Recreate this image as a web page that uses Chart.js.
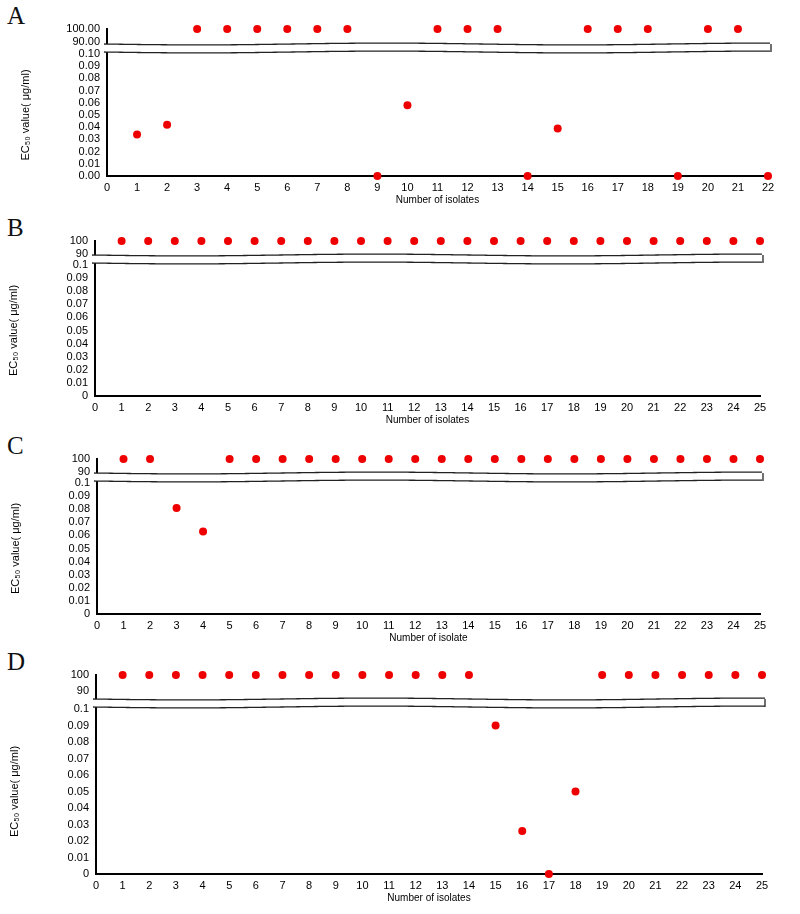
<!DOCTYPE html>
<html><head><meta charset="utf-8">
<script src="https://cdn.jsdelivr.net/npm/chart.js@4"></script>
<style>
body{margin:0;background:#fff;width:800px;height:914px;position:relative;overflow:hidden}
canvas{position:absolute;left:0}
.lt{position:absolute;font-family:"Liberation Serif",serif;font-size:25px;color:#111}
</style></head><body>
<div class="lt" style="left:7px;top:2px">A</div>
<div class="lt" style="left:7px;top:214px">B</div>
<div class="lt" style="left:7px;top:432px">C</div>
<div class="lt" style="left:7px;top:648px">D</div>
<canvas id="cA"></canvas><canvas id="cB"></canvas><canvas id="cC"></canvas><canvas id="cD"></canvas>
<script>
// Data
const isolatesA = [1,2,3,4,5,6,7,8,9,10,11,12,13,14,15,16,17,18,19,20,21,22];
const valuesA   = [0.034,0.042,100,100,100,100,100,100,0,0.058,100,100,100,0,0.039,100,100,100,0,100,100,0];
const isolatesB = [1,2,3,4,5,6,7,8,9,10,11,12,13,14,15,16,17,18,19,20,21,22,23,24,25];
const valuesB   = [100,100,100,100,100,100,100,100,100,100,100,100,100,100,100,100,100,100,100,100,100,100,100,100,100];
const isolatesC = [1,2,3,4,5,6,7,8,9,10,11,12,13,14,15,16,17,18,19,20,21,22,23,24,25];
const valuesC   = [100,100,0.081,0.063,100,100,100,100,100,100,100,100,100,100,100,100,100,100,100,100,100,100,100,100,100];
const isolatesD = [1,2,3,4,5,6,7,8,9,10,11,12,13,14,15,16,17,18,19,20,21,22,23,24,25];
const valuesD   = [100,100,100,100,100,100,100,100,100,100,100,100,100,100,0.09,0.026,0,0.05,100,100,100,100,100,100,100];
const topTicksA = ["100.00","90.00"];
const lowTicksA = ["0.10","0.09","0.08","0.07","0.06","0.05","0.04","0.03","0.02","0.01","0.00"];
const topTicks  = ["100","90"];
const lowTicks  = ["0.1","0.09","0.08","0.07","0.06","0.05","0.04","0.03","0.02","0.01","0"];
const xTitleA = "Number of isolates", xTitleC = "Number of isolate";
const yTitle = "EC\u2085\u2080 value( \u03bcg/ml)";

const FONT = {family:"'Liberation Sans', Arial, sans-serif", size:11};

const breakPlugin = {
  id:'brk',
  afterDraw(ch){
    const c=ch.ctx, lo=ch.scales.yLow, a=ch.chartArea;
    const y0=lo.top-10, y1=lo.top-2, xl=a.left-3, xr=a.right+3;
    c.save();
    c.fillStyle='#fff'; c.fillRect(xl,y0,xr-xl,y1-y0);
    c.strokeStyle='#222'; c.lineWidth=1.3;
    for(const y of [y0,y1]){
      c.beginPath();
      for(let x=xl;x<=xr;x+=2){const yy=y+Math.sin((x-xl)/60)*0.9; x===xl?c.moveTo(x,yy):c.lineTo(x,yy);}
      c.stroke();
    }
    c.beginPath(); c.moveTo(xr,y0); c.lineTo(xr,y1); c.stroke();
    c.restore();
  }
};

function make(id, p){
  const cv=document.getElementById(id);
  cv.style.top=p.ctop+'px'; cv.width=800; cv.height=p.h; cv.style.width='800px'; cv.style.height=p.h+'px';
  const hi=[], lo=[];
  p.xs.forEach((x,i)=>{ (p.vs[i]>=1?hi:lo).push({x, y:p.vs[i]}); });
  const YW=90, XH=30;
  new Chart(cv,{
    type:'scatter',
    data:{datasets:[
      {data:hi, yAxisID:'yTop', backgroundColor:'#ee0000', borderWidth:0, pointRadius:4, clip:false},
      {data:lo, yAxisID:'yLow', backgroundColor:'#ee0000', borderWidth:0, pointRadius:4, clip:false}
    ]},
    options:{
      responsive:false, animation:false, events:[],
      layout:{padding:{left:p.left-YW, right:800-p.right, top:p.top-p.ctop, bottom:p.h-(p.bottom-p.ctop)-XH}},
      plugins:{legend:{display:false}, tooltip:{enabled:false}},
      scales:{
        x:{type:'linear', min:0, max:p.xmax,
           afterBuildTicks(s){s.ticks=p.xs.concat([0]).sort((a,b)=>a-b).map(v=>({value:v}));},
           afterFit(s){s.height=XH;},
           grid:{display:false, drawTicks:true, tickLength:4, tickColor:'#000'},
           border:{color:'#000', width:2},
           ticks:{color:'#000', font:FONT, padding:1, maxRotation:0, autoSkip:false},
           title:{display:true, text:p.xt, color:'#000', font:{...FONT,size:10}, padding:0}},
        yLow:{type:'linear', position:'left', stack:'s', stackWeight:p.wb, min:0, max:0.1,
           afterBuildTicks(s){s.ticks=p.lt.map((t,i)=>({value:Math.round((0.1-i*0.01)*100)/100}));},
           afterFit(s){s.width=YW;},
           grid:{display:false, tickLength:4, tickColor:'#000'}, border:{color:'#000',width:2},
           ticks:{color:'#000', font:FONT, padding:3, autoSkip:false, callback:(v,i)=>p.lt[i]},
           title:{display:true, text:yTitle, color:'#000', font:{...FONT,size:11}, padding:2}},
        yTop:{type:'linear', position:'left', stack:'s', stackWeight:p.wt, min:p.tmin, max:100, offset:false,
           afterBuildTicks(s){s.ticks=[{value:100},{value:90}];},
           afterFit(s){s.width=YW;},
           grid:{display:false, tickLength:4, tickColor:'#000'}, border:{color:'#000',width:2},
           ticks:{color:'#000', font:FONT, padding:3, autoSkip:false, callback:(v,i)=>p.tt[i]}}
      }
    },
    plugins:[breakPlugin]
  });
}
make('cA',{ctop:0,h:205,top:29,bottom:176,left:107,right:768,xmax:22,xs:isolatesA,vs:valuesA,tt:topTicksA,lt:lowTicksA,xt:xTitleA,wt:25,wb:122,tmin:81});
make('cB',{ctop:212,h:215,top:241,bottom:396,left:95,right:760,xmax:25,xs:isolatesB,vs:valuesB,tt:topTicks,lt:lowTicks,xt:xTitleA,wt:24,wb:131,tmin:81.5});
make('cC',{ctop:430,h:215,top:459,bottom:614,left:97,right:760,xmax:25,xs:isolatesC,vs:valuesC,tt:topTicks,lt:lowTicks,xt:xTitleC,wt:24,wb:131,tmin:81.5});
make('cD',{ctop:648,h:266,top:675,bottom:874,left:96,right:762,xmax:25,xs:isolatesD,vs:valuesD,tt:topTicks,lt:lowTicks,xt:xTitleA,wt:34,wb:165,tmin:79});
</script></body></html>
